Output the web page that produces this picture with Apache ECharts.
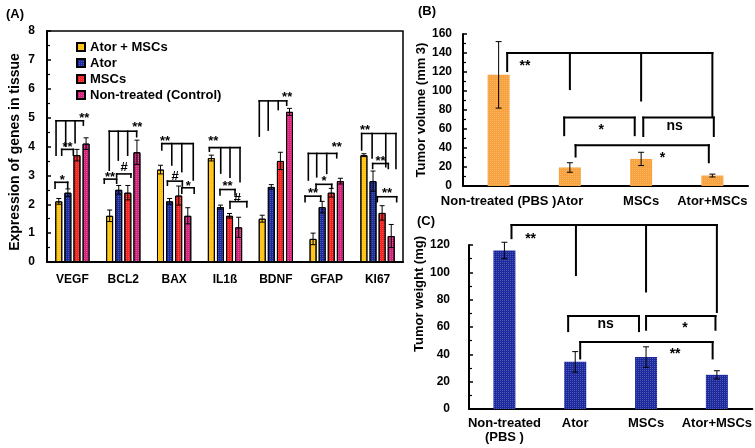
<!DOCTYPE html>
<html>
<head>
<meta charset="utf-8">
<script src="https://cdn.jsdelivr.net/npm/echarts@6/dist/echarts.min.js"></script>
<style>html,body{margin:0;padding:0;background:#fff;}#c{width:755px;height:448px;}</style>
</head>
<body>
<div id="c"></div>
<script>
// ---------- DATA ----------
const genes = ['VEGF', 'BCL2', 'BAX', 'IL1ß', 'BDNF', 'GFAP', 'KI67'];
const groupNames = ['Ator + MSCs', 'Ator', 'MSCs', 'Non-treated (Control)'];
const atorMscs    = [2.1, 1.6, 3.2, 3.6, 1.5, 0.8, 3.7];
const atorMscsErr = [0.1, 0.2, 0.15, 0.1, 0.12, 0.2, 0.05];
const ator        = [2.4, 2.5, 2.1, 1.9, 2.6, 1.9, 2.8];
const atorErr     = [0.13, 0.15, 0.1, 0.07, 0.08, 0.2, 0.35];
const mscs        = [3.7, 2.4, 2.3, 1.6, 3.5, 2.4, 1.7];
const mscsErr     = [0.2, 0.25, 0.33, 0.08, 0.3, 0.15, 0.25];
const control     = [4.1, 3.8, 1.6, 1.2, 5.2, 2.8, 0.9];
const controlErr  = [0.2, 0.42, 0.28, 0.35, 0.12, 0.1, 0.4];
const yTicksA = [0, 8, 1];

const groupsB = ['Non-treated (PBS )', 'Ator', 'MSCs', 'Ator+MSCs'];
const volume    = [117, 19.5, 28.5, 11];
const volumeErr = [35, 5, 7, 1.5];
const yTicksB = [0, 160, 20];

const groupsC = ['Non-treated\n(PBS )', 'Ator', 'MSCs', 'Ator+MSCs'];
const weight    = [116, 34.5, 38, 25];
const weightErr = [6, 7.5, 7.5, 3];
const yTicksC = [0, 120, 20];

// significance brackets, panel A: x given as bar slot (0..3) inside a gene group
const sigA = [
  {cat: 0, y: 4.89, legs: [[-0.3, 3.70], [0.76, 4.01], [1.79, 4.13], [2.7, 4.74]], label: '**', lx: 2.81, ly: 5.09},
  {cat: 0, y: 3.9,  legs: [[0.32, 3.70], [1.6, 3.70]], label: '**', lx: 0.96, ly: 4.08},
  {cat: 0, y: 2.76, legs: [[-0.41, 2.56], [0.98, 2.56]], label: '*', lx: 0.39, ly: 2.95},
  {cat: 1, y: 4.53, legs: [[-0.04, 3.18], [0.95, 3.53], [1.98, 3.70], [2.97, 4.34]], label: '**', lx: 3.03, ly: 4.78},
  {cat: 1, y: 2.87, legs: [[-0.59, 2.73], [0.77, 2.73]], label: '**', lx: 0.04, ly: 3.04},
  {cat: 1, y: 3.05, legs: [[0.77, 2.94], [2.34, 2.94]], label: '#', lx: 1.6, ly: 3.26},
  {cat: 2, y: 4.1,  legs: [[0.14, 3.88], [1.24, 3.36], [2.34, 3.13], [3.6, 2.84]], label: '**', lx: 0.5, ly: 4.28},
  {cat: 2, y: 2.8,  legs: [[0.76, 2.66], [2.4, 2.63]], label: '#', lx: 1.6, ly: 2.98},
  {cat: 2, y: 2.57, legs: [[2.34, 2.38], [3.7, 2.38]], label: '*', lx: 3.04, ly: 2.72},
  {cat: 3, y: 3.96, legs: [[-0.22, 3.84], [1.03, 3.08], [2.05, 2.94], [3.15, 2.78]], label: '**', lx: 0.21, ly: 4.28},
  {cat: 3, y: 2.51, legs: [[0.95, 2.32], [2.6, 2.32]], label: '**', lx: 1.77, ly: 2.74},
  {cat: 3, y: 2.09, legs: [[2.05, 1.86], [3.9, 1.91]], label: '#', lx: 2.85, ly: 2.2},
  {cat: 4, y: 5.58, legs: [[-0.32, 4.36], [0.66, 4.57], [1.76, 5.28], [2.69, 5.43]], label: '**', lx: 2.74, ly: 5.81},
  {cat: 5, y: 3.76, legs: [[-0.52, 2.84], [0.4, 2.95], [1.5, 3.07], [2.6, 3.61]], label: '**', lx: 2.6, ly: 4.07},
  {cat: 5, y: 2.69, legs: [[0.33, 2.55], [2.05, 2.55]], label: '*', lx: 1.2, ly: 2.92},
  {cat: 5, y: 2.28, legs: [[-0.88, 2.09], [0.84, 2.11]], label: '**', lx: 0.0, ly: 2.49},
  {cat: 6, y: 4.45, legs: [[-0.25, 3.88], [0.9, 3.6], [2.4, 3.3], [3.52, 3.24]], label: '**', lx: 0.12, ly: 4.68},
  {cat: 6, y: 3.41, legs: [[0.96, 3.24], [2.68, 3.24]], label: '**', lx: 1.82, ly: 3.59},
  {cat: 6, y: 2.26, legs: [[1.47, 2.09], [3.6, 2.09]], label: '**', lx: 2.53, ly: 2.49}
];
// panels B and C: x given as fractional category position
const sigB = [
  {y: 140, legs: [[0.12, 121], [1.0, 102], [2.0, 90], [3.0, 73]], label: '**', lx: 0.37, ly: 130},
  {y: 72,  legs: [[0.92, 53.5], [1.91, 53.5]], label: '*', lx: 1.44, ly: 63},
  {y: 72,  legs: [[2.03, 52.6], [3.02, 52.6]], label: 'ns', lx: 2.47, ly: 63},
  {y: 43,  legs: [[1.08, 31], [2.95, 25]], label: '*', lx: 2.3, ly: 32.6}
];
const sigC = [
  {y: 134.6, legs: [[0.1, 125], [1.01, 98], [2.0, 86], [3.0, 71]], label: '**', lx: 0.37, ly: 127},
  {y: 68, legs: [[0.9, 57], [1.9, 57]], label: 'ns', lx: 1.43, ly: 62},
  {y: 68, legs: [[2.0, 58], [2.98, 58]], label: '*', lx: 2.55, ly: 62},
  {y: 49, legs: [[1.07, 37], [2.94, 37]], label: '**', lx: 2.41, ly: 42.4}
];

// ---------- STYLE / LAYOUT ----------
const FONT = 'Arial, "Liberation Sans", sans-serif';
const colorsA = ['#FFC20E', '#1C2C9E', '#F52222', '#D4237C'];
const valuesA = [atorMscs, ator, mscs, control];
const errsA = [atorMscsErr, atorErr, mscsErr, controlErr];
const BAR_A = 7, GAP_A = 0.3, STEP_A = BAR_A * (1 + GAP_A);
const decal = {symbol: 'rect', symbolSize: 1, dashArrayX: [1, 1], dashArrayY: [1, 1], color: 'rgba(255,255,255,0.22)'};

function errRender(slotMode, cap) {
  return function (params, api) {
    const cat = api.value(0), m = api.value(1), e = api.value(2), s = api.value(3);
    const t = api.coord([cat, m + e]), b = api.coord([cat, m - e]);
    const x = t[0] + (slotMode ? (s - 1.5) * STEP_A : 0);
    const st = {stroke: '#000', lineWidth: 1};
    return {type: 'group', children: [
      {type: 'line', shape: {x1: x, y1: t[1], x2: x, y2: b[1]}, style: st},
      {type: 'line', shape: {x1: x - cap / 2, y1: t[1], x2: x + cap / 2, y2: t[1]}, style: st},
      {type: 'line', shape: {x1: x - cap / 2, y1: b[1], x2: x + cap / 2, y2: b[1]}, style: st}
    ]};
  };
}

function bracketRender(list, slotMode, lw, fontSize) {
  return function (params, api) {
    const br = list[params.dataIndex];
    const X = (pos) => {
      if (slotMode) return api.coord([br.cat, 0])[0] + (pos - 1.5) * STEP_A;
      const idx = Math.max(0, Math.min(3, Math.round(pos)));
      return api.coord([idx, 0])[0] + (pos - idx) * api.size([1, 0])[0];
    };
    const Y = (v) => api.coord([0, v])[1];
    const st = {stroke: '#000', lineWidth: lw, lineCap: 'square'};
    const xs = br.legs.map(l => X(l[0]));
    const yt = Y(br.y);
    const children = [{type: 'line', shape: {x1: Math.min(...xs), y1: yt, x2: Math.max(...xs), y2: yt}, style: st}];
    br.legs.forEach((l, i) => {
      children.push({type: 'line', shape: {x1: xs[i], y1: yt, x2: xs[i], y2: Y(l[1])}, style: st});
    });
    const star = br.label.indexOf('*') >= 0;
    children.push({type: 'text', x: X(br.lx), y: Y(br.ly) + (star ? fontSize * 0.25 : 0),
      style: {text: br.label, fill: '#000', font: 'bold ' + fontSize + 'px ' + FONT, align: 'center', verticalAlign: 'middle'}});
    return {type: 'group', children};
  };
}

function yAxisCfg(grid, ticks, name, gap, margin, pad) {
  return {
    type: 'value', gridIndex: grid, min: ticks[0], max: ticks[1], interval: ticks[2],
    axisLine: {show: true, lineStyle: {color: '#000', width: 2}},
    axisTick: {show: true, inside: true, length: 4, lineStyle: {color: '#000', width: 1.5}},
    minorTick: {show: true, splitNumber: 2, length: 3, lineStyle: {color: '#000', width: 1.2}},
    splitLine: {show: false},
    axisLabel: {margin: margin, color: '#000', fontWeight: 'bold', fontSize: 12, fontFamily: FONT},
    name: name, nameLocation: 'middle', nameGap: gap,
    nameTextStyle: {color: '#000', fontWeight: 'bold', fontSize: grid === 0 ? 14 : 13, fontFamily: FONT, padding: pad}
  };
}
function xAxisCfg(grid, data, margin, fs) {
  return {
    type: 'category', gridIndex: grid, data: data,
    axisTick: {show: false},
    axisLine: {lineStyle: {color: '#000', width: 2}},
    axisLabel: {interval: 0, margin: margin, color: '#000', fontWeight: 'bold', fontSize: fs, fontFamily: FONT, lineHeight: 14}
  };
}

const series = [];
groupNames.forEach((name, k) => {
  series.push({type: 'bar', name: name, xAxisIndex: 0, yAxisIndex: 0, data: valuesA[k],
    barWidth: BAR_A, barGap: (GAP_A * 100) + '%',
    itemStyle: {color: colorsA[k], borderColor: '#000', borderWidth: 1, decal: decal}});
});
const errDataA = [];
valuesA.forEach((vals, k) => vals.forEach((v, i) => errDataA.push([i, v, errsA[k][i], k])));
series.push({type: 'custom', xAxisIndex: 0, yAxisIndex: 0, data: errDataA, encode: {x: 0, y: 1},
  renderItem: errRender(true, 5), z: 5, silent: true, clip: false});
series.push({type: 'custom', xAxisIndex: 0, yAxisIndex: 0, data: sigA.map(b => [b.cat, b.y]), encode: {x: 0, y: 1},
  renderItem: bracketRender(sigA, true, 1.6, 13), z: 6, silent: true, clip: false});

series.push({type: 'bar', name: 'volume', xAxisIndex: 1, yAxisIndex: 1, data: volume, barWidth: 22,
  itemStyle: {color: '#F7A23C', decal: decal}});
series.push({type: 'custom', xAxisIndex: 1, yAxisIndex: 1, data: volume.map((v, i) => [i, v, volumeErr[i], 0]), encode: {x: 0, y: 1},
  renderItem: errRender(false, 6), z: 5, silent: true, clip: false});
series.push({type: 'custom', xAxisIndex: 1, yAxisIndex: 1, data: sigB.map(b => [0, b.y]), encode: {x: 0, y: 1},
  renderItem: bracketRender(sigB, false, 2, 14), z: 6, silent: true, clip: false});

series.push({type: 'bar', name: 'weight', xAxisIndex: 2, yAxisIndex: 2, data: weight, barWidth: 22,
  itemStyle: {color: '#1C2A9E', decal: decal}});
series.push({type: 'custom', xAxisIndex: 2, yAxisIndex: 2, data: weight.map((v, i) => [i, v, weightErr[i], 0]), encode: {x: 0, y: 1},
  renderItem: errRender(false, 6), z: 5, silent: true, clip: false});
series.push({type: 'custom', xAxisIndex: 2, yAxisIndex: 2, data: sigC.map(b => [0, b.y]), encode: {x: 0, y: 1},
  renderItem: bracketRender(sigC, false, 2, 14), z: 6, silent: true, clip: false});

const chart = echarts.init(document.getElementById('c'), null, {renderer: 'canvas'});
chart.setOption({
  animation: false,
  backgroundColor: '#fff',
  textStyle: {fontFamily: FONT},
  grid: [
    {left: 47, top: 31, right: 352, bottom: 186, show: true, borderColor: '#000', borderWidth: 1.5, backgroundColor: 'transparent'},
    {left: 463, top: 34, right: 7, bottom: 262},
    {left: 469, top: 245, right: 2, bottom: 39}
  ],
  xAxis: [xAxisCfg(0, genes, 11, 12), xAxisCfg(1, groupsB, 8, 13), xAxisCfg(2, groupsC, 7, 13)],
  yAxis: [
    yAxisCfg(0, yTicksA, 'Expression of genes in tissue', 25, 12, [0, 11, 0, 0]),
    yAxisCfg(1, yTicksB, 'Tumor volume (mm 3)', 19, 11, 0),
    yAxisCfg(2, yTicksC, 'Tumor weight (mg)', 25, 19, [0, 0, 0, 66])
  ],
  legend: {data: groupNames, orient: 'vertical', left: 76, top: 39, itemWidth: 8, itemHeight: 8, itemGap: 0, padding: 0,
    icon: 'rect', textStyle: {fontSize: 13, fontWeight: 'bold', color: '#000', fontFamily: FONT, lineHeight: 16}},
  graphic: [
    {type: 'text', left: 6, top: 8, style: {text: '(A)', font: 'bold 13px ' + FONT, fill: '#000'}},
    {type: 'text', left: 418, top: 5, style: {text: '(B)', font: 'bold 13px ' + FONT, fill: '#000'}},
    {type: 'text', left: 417, top: 215, style: {text: '(C)', font: 'bold 13px ' + FONT, fill: '#000'}}
  ],
  series: series
});
</script>
</body>
</html>
